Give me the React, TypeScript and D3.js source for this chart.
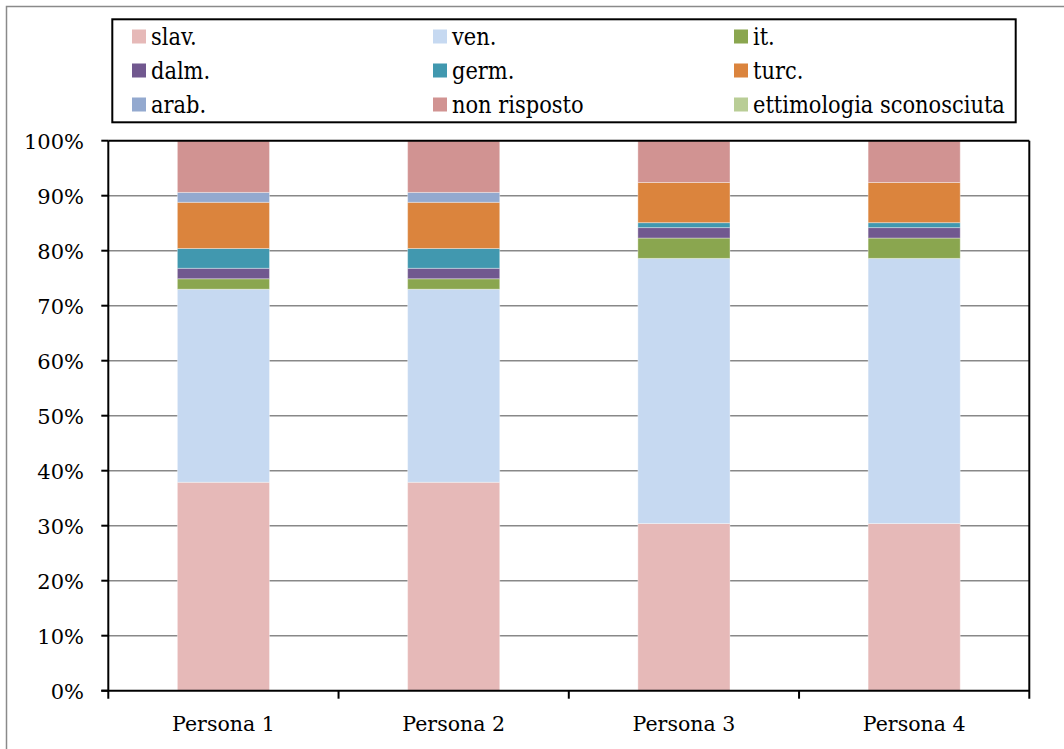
import React, { useEffect, useRef } from 'react';
import * as d3 from 'd3';

const personas = ['Persona 1', 'Persona 2', 'Persona 3', 'Persona 4'];

const categories = ['slav.', 'ven.', 'it.', 'dalm.', 'germ.', 'turc.', 'arab.', 'non risposto', 'ettimologia sconosciuta'];

const colors = ['#E6B9B8', '#C6D9F1', '#8AA64F', '#71588F', '#4198AF', '#DB843D', '#93A9CF', '#D19392', '#B9CD96'];

// percent per category, one array per persona
const persona1 = [37.9, 35.1, 1.9, 1.9, 3.6, 8.4, 1.8, 9.4, 0];
const persona2 = [37.9, 35.1, 1.9, 1.9, 3.6, 8.4, 1.8, 9.4, 0];
const persona3 = [30.4, 48.2, 3.7, 1.9, 0.9, 7.3, 0, 7.6, 0];
const persona4 = [30.4, 48.2, 3.7, 1.9, 0.9, 7.3, 0, 7.6, 0];

const yTicks = [0, 10, 20, 30, 40, 50, 60, 70, 80, 90, 100];

const App: React.FC = () => {
  const svgRef = useRef<SVGSVGElement>(null);
  const width = 1064;
  const height = 749;

  useEffect(() => {
    if (!svgRef.current) return;
    const svg = d3.select(svgRef.current);
    svg.selectAll('*').remove();

    const font = "'DejaVu Serif', serif";
    const plot = { left: 108.3, right: 1029.3, top: 140.7, bottom: 690.7 };

    // outer frame (runs off the right/bottom edge)
    svg.append('rect')
      .attr('x', 6.5).attr('y', 6.5)
      .attr('width', width).attr('height', height)
      .attr('fill', '#fff').attr('stroke', '#8a8a8a').attr('stroke-width', 1.5);

    const rows = [persona1, persona2, persona3, persona4].map((vals, i) => {
      const r: any = { persona: personas[i] };
      categories.forEach((c, j) => { r[c] = vals[j]; });
      return r;
    });

    const x = d3.scaleBand().domain(personas).range([plot.left, plot.right]).paddingInner(0.6).paddingOuter(0.3);
    const xOuter = d3.scaleBand().domain(personas).range([plot.left, plot.right]);
    const y = d3.scaleLinear().domain([0, 100]).range([plot.bottom, plot.top]);

    // gridlines
    svg.append('g').selectAll('line')
      .data(yTicks.filter(t => t > 0 && t < 100))
      .join('line')
      .attr('x1', plot.left).attr('x2', plot.right)
      .attr('y1', d => y(d)).attr('y2', d => y(d))
      .attr('stroke', '#888').attr('stroke-width', 1.5);

    // stacked bars
    const series = d3.stack<any>().keys(categories)(rows);
    const color = d3.scaleOrdinal<string, string>().domain(categories).range(colors);
    svg.append('g').selectAll('g')
      .data(series)
      .join('g')
      .attr('fill', d => color(d.key))
      .selectAll('rect')
      .data(d => d.filter(s => s[1] - s[0] > 0))
      .join('rect')
      .attr('x', d => x(d.data.persona) as number)
      .attr('width', x.bandwidth())
      .attr('y', d => y(d[1]))
      .attr('height', d => y(d[0]) - y(d[1]))
      .attr('stroke', 'rgba(255,255,255,0.35)')
      .attr('stroke-width', 1);

    // plot border
    svg.append('line').attr('x1', plot.left).attr('x2', plot.right).attr('y1', plot.top).attr('y2', plot.top)
      .attr('stroke', '#000').attr('stroke-width', 2);
    svg.append('line').attr('x1', plot.right).attr('x2', plot.right).attr('y1', plot.top).attr('y2', plot.bottom + 8)
      .attr('stroke', '#000').attr('stroke-width', 2);

    // y axis
    const yAxis = svg.append('g');
    yAxis.append('line').attr('x1', plot.left).attr('x2', plot.left).attr('y1', plot.top).attr('y2', plot.bottom + 8)
      .attr('stroke', '#000').attr('stroke-width', 2);
    yAxis.selectAll('line.tick')
      .data(yTicks)
      .join('line')
      .attr('class', 'tick')
      .attr('x1', plot.left - 7).attr('x2', plot.left)
      .attr('y1', d => y(d)).attr('y2', d => y(d))
      .attr('stroke', '#000').attr('stroke-width', 2);
    yAxis.selectAll('text')
      .data(yTicks)
      .join('text')
      .attr('x', 84)
      .attr('y', d => y(d) + 8)
      .attr('text-anchor', 'end')
      .attr('font-family', font)
      .attr('font-size', 21)
      .attr('fill', '#000')
      .text(d => `${d}%`);

    // x axis
    const xAxis = svg.append('g');
    xAxis.append('line').attr('x1', plot.left - 7).attr('x2', plot.right).attr('y1', plot.bottom).attr('y2', plot.bottom)
      .attr('stroke', '#000').attr('stroke-width', 2);
    xAxis.selectAll('line.tick')
      .data(personas.slice(1))
      .join('line')
      .attr('class', 'tick')
      .attr('x1', d => xOuter(d) as number).attr('x2', d => xOuter(d) as number)
      .attr('y1', plot.bottom).attr('y2', plot.bottom + 8)
      .attr('stroke', '#000').attr('stroke-width', 2);
    xAxis.selectAll('text')
      .data(personas)
      .join('text')
      .attr('x', d => (xOuter(d) as number) + xOuter.bandwidth() / 2)
      .attr('y', 731)
      .attr('text-anchor', 'middle')
      .attr('font-family', font)
      .attr('font-size', 20.5)
      .attr('fill', '#000')
      .text(d => d);

    // legend
    const legend = svg.append('g');
    legend.append('rect')
      .attr('x', 112.3).attr('y', 19.3)
      .attr('width', 1015.7 - 112.3).attr('height', 103)
      .attr('fill', '#fff').attr('stroke', '#000').attr('stroke-width', 2);
    const items = legend.selectAll('g.item')
      .data(categories)
      .join('g')
      .attr('class', 'item')
      .attr('transform', (d, i) => `translate(${132 + (i % 3) * 301},${44.5 + Math.floor(i / 3) * 34})`);
    items.append('rect')
      .attr('x', 0).attr('y', -15)
      .attr('width', 14).attr('height', 14)
      .attr('fill', d => color(d));
    items.append('text')
      .attr('x', 19).attr('y', 0)
      .attr('font-family', "'DejaVu Serif Condensed', 'DejaVu Serif', serif")
      .attr('font-size', 23.3)
      .attr('fill', '#000')
      .text(d => d);
  }, []);

  return (
    <div style={{ position: 'absolute', left: 0, top: 0 }}>
      <svg ref={svgRef} width={width} height={height} style={{ display: 'block' }} />
    </div>
  );
};

export default App;
